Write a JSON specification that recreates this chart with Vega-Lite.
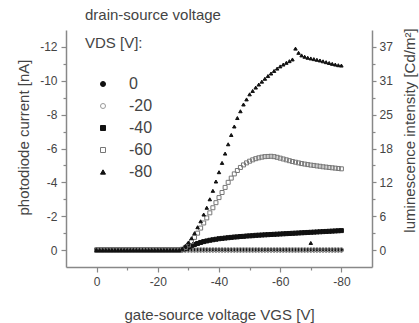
{
"$schema": "https://vega.github.io/schema/vega-lite/v6.json",
"width": 306, "height": 237,
"autosize": {"type": "none"},
"padding": {"left": 66, "top": 30, "right": 47, "bottom": 56},
"background": "white",
"config": {
  "view": {"stroke": null},
  "font": "Liberation Sans",
  "axis": {"grid": false, "domainColor": "#888", "tickColor": "#888", "labelColor": "#444", "titleColor": "#444", "labelFont": "Liberation Sans", "titleFont": "Liberation Sans", "labelFontSize": 12, "titleFontSize": 15, "titleFontWeight": "normal", "domainWidth": 1.5, "tickWidth": 1.2},
  "legend": {"titleFont": "Liberation Sans", "labelFont": "Liberation Sans"}
},
"data": {"values": [
{"s":"0","v":0,"c":0},{"s":"0","v":-1,"c":0},{"s":"0","v":-2,"c":0},{"s":"0","v":-3,"c":0},{"s":"0","v":-4,"c":0},{"s":"0","v":-5,"c":0},{"s":"0","v":-6,"c":0},{"s":"0","v":-7,"c":0},{"s":"0","v":-8,"c":0},{"s":"0","v":-9,"c":0},{"s":"0","v":-10,"c":0},{"s":"0","v":-11,"c":0},{"s":"0","v":-12,"c":0},{"s":"0","v":-13,"c":0},{"s":"0","v":-14,"c":0},{"s":"0","v":-15,"c":0},{"s":"0","v":-16,"c":0},{"s":"0","v":-17,"c":0},{"s":"0","v":-18,"c":0},{"s":"0","v":-19,"c":0},{"s":"0","v":-20,"c":0},{"s":"0","v":-21,"c":0},{"s":"0","v":-22,"c":0},{"s":"0","v":-23,"c":0},{"s":"0","v":-24,"c":0},{"s":"0","v":-25,"c":0},{"s":"0","v":-26,"c":0},{"s":"0","v":-27,"c":0},{"s":"0","v":-28,"c":0},{"s":"0","v":-29,"c":0},{"s":"0","v":-30,"c":0},{"s":"0","v":-31,"c":0},{"s":"0","v":-32,"c":0},{"s":"0","v":-33,"c":0},{"s":"0","v":-34,"c":0},{"s":"0","v":-35,"c":0},{"s":"0","v":-36,"c":0},{"s":"0","v":-37,"c":0},{"s":"0","v":-38,"c":0},{"s":"0","v":-39,"c":0},{"s":"0","v":-40,"c":0},{"s":"0","v":-41,"c":0},{"s":"0","v":-42,"c":0},{"s":"0","v":-43,"c":0},{"s":"0","v":-44,"c":0},{"s":"0","v":-45,"c":0},{"s":"0","v":-46,"c":0},{"s":"0","v":-47,"c":0},{"s":"0","v":-48,"c":0},{"s":"0","v":-49,"c":0},{"s":"0","v":-50,"c":0},{"s":"0","v":-51,"c":0},{"s":"0","v":-52,"c":0},{"s":"0","v":-53,"c":0},{"s":"0","v":-54,"c":0},{"s":"0","v":-55,"c":0},{"s":"0","v":-56,"c":0},{"s":"0","v":-57,"c":0},{"s":"0","v":-58,"c":0},{"s":"0","v":-59,"c":0},{"s":"0","v":-60,"c":0},{"s":"0","v":-61,"c":0},{"s":"0","v":-62,"c":0},{"s":"0","v":-63,"c":0},{"s":"0","v":-64,"c":0},{"s":"0","v":-65,"c":0},{"s":"0","v":-66,"c":0},{"s":"0","v":-67,"c":0},{"s":"0","v":-68,"c":0},{"s":"0","v":-69,"c":0},{"s":"0","v":-70,"c":0},{"s":"0","v":-71,"c":0},{"s":"0","v":-72,"c":0},{"s":"0","v":-73,"c":0},{"s":"0","v":-74,"c":0},{"s":"0","v":-75,"c":0},{"s":"0","v":-76,"c":0},{"s":"0","v":-77,"c":0},{"s":"0","v":-78,"c":0},{"s":"0","v":-79,"c":0},{"s":"0","v":-80,"c":0},
{"s":"-20","v":0,"c":0},{"s":"-20","v":-1,"c":0},{"s":"-20","v":-2,"c":0},{"s":"-20","v":-3,"c":0},{"s":"-20","v":-4,"c":0},{"s":"-20","v":-5,"c":0},{"s":"-20","v":-6,"c":0},{"s":"-20","v":-7,"c":0},{"s":"-20","v":-8,"c":0},{"s":"-20","v":-9,"c":0},{"s":"-20","v":-10,"c":0},{"s":"-20","v":-11,"c":0},{"s":"-20","v":-12,"c":0},{"s":"-20","v":-13,"c":0},{"s":"-20","v":-14,"c":0},{"s":"-20","v":-15,"c":0},{"s":"-20","v":-16,"c":0},{"s":"-20","v":-17,"c":0},{"s":"-20","v":-18,"c":0},{"s":"-20","v":-19,"c":0},{"s":"-20","v":-20,"c":0},{"s":"-20","v":-21,"c":0},{"s":"-20","v":-22,"c":0},{"s":"-20","v":-23,"c":0},{"s":"-20","v":-24,"c":0},{"s":"-20","v":-25,"c":0},{"s":"-20","v":-26,"c":0},{"s":"-20","v":-27,"c":0},{"s":"-20","v":-28,"c":0},{"s":"-20","v":-29,"c":-0.01},{"s":"-20","v":-30,"c":-0.01},{"s":"-20","v":-31,"c":-0.02},{"s":"-20","v":-32,"c":-0.02},{"s":"-20","v":-33,"c":-0.02},{"s":"-20","v":-34,"c":-0.02},{"s":"-20","v":-35,"c":-0.02},{"s":"-20","v":-36,"c":-0.02},{"s":"-20","v":-37,"c":-0.02},{"s":"-20","v":-38,"c":-0.02},{"s":"-20","v":-39,"c":-0.02},{"s":"-20","v":-40,"c":-0.02},{"s":"-20","v":-41,"c":-0.02},{"s":"-20","v":-42,"c":-0.02},{"s":"-20","v":-43,"c":-0.02},{"s":"-20","v":-44,"c":-0.02},{"s":"-20","v":-45,"c":-0.02},{"s":"-20","v":-46,"c":-0.02},{"s":"-20","v":-47,"c":-0.02},{"s":"-20","v":-48,"c":-0.02},{"s":"-20","v":-49,"c":-0.02},{"s":"-20","v":-50,"c":-0.02},{"s":"-20","v":-51,"c":-0.02},{"s":"-20","v":-52,"c":-0.02},{"s":"-20","v":-53,"c":-0.02},{"s":"-20","v":-54,"c":-0.02},{"s":"-20","v":-55,"c":-0.02},{"s":"-20","v":-56,"c":-0.02},{"s":"-20","v":-57,"c":-0.02},{"s":"-20","v":-58,"c":-0.02},{"s":"-20","v":-59,"c":-0.02},{"s":"-20","v":-60,"c":-0.02},{"s":"-20","v":-61,"c":-0.02},{"s":"-20","v":-62,"c":-0.02},{"s":"-20","v":-63,"c":-0.02},{"s":"-20","v":-64,"c":-0.02},{"s":"-20","v":-65,"c":-0.02},{"s":"-20","v":-66,"c":-0.02},{"s":"-20","v":-67,"c":-0.02},{"s":"-20","v":-68,"c":-0.02},{"s":"-20","v":-69,"c":-0.02},{"s":"-20","v":-70,"c":-0.02},{"s":"-20","v":-71,"c":-0.02},{"s":"-20","v":-72,"c":-0.02},{"s":"-20","v":-73,"c":-0.02},{"s":"-20","v":-74,"c":-0.02},{"s":"-20","v":-75,"c":-0.02},{"s":"-20","v":-76,"c":-0.02},{"s":"-20","v":-77,"c":-0.02},{"s":"-20","v":-78,"c":-0.02},{"s":"-20","v":-79,"c":-0.02},{"s":"-20","v":-80,"c":-0.02},
{"s":"-40","v":0,"c":0},{"s":"-40","v":-1,"c":0},{"s":"-40","v":-2,"c":0},{"s":"-40","v":-3,"c":0},{"s":"-40","v":-4,"c":0},{"s":"-40","v":-5,"c":0},{"s":"-40","v":-6,"c":0},{"s":"-40","v":-7,"c":0},{"s":"-40","v":-8,"c":0},{"s":"-40","v":-9,"c":0},{"s":"-40","v":-10,"c":0},{"s":"-40","v":-11,"c":0},{"s":"-40","v":-12,"c":0},{"s":"-40","v":-13,"c":0},{"s":"-40","v":-14,"c":0},{"s":"-40","v":-15,"c":0},{"s":"-40","v":-16,"c":0},{"s":"-40","v":-17,"c":0},{"s":"-40","v":-18,"c":0},{"s":"-40","v":-19,"c":0},{"s":"-40","v":-20,"c":0},{"s":"-40","v":-21,"c":0},{"s":"-40","v":-22,"c":0},{"s":"-40","v":-23,"c":0},{"s":"-40","v":-24,"c":0},{"s":"-40","v":-25,"c":0},{"s":"-40","v":-26,"c":0},{"s":"-40","v":-27,"c":0},{"s":"-40","v":-28,"c":-0.03},{"s":"-40","v":-29,"c":-0.1},{"s":"-40","v":-30,"c":-0.18},{"s":"-40","v":-31,"c":-0.26},{"s":"-40","v":-32,"c":-0.33},{"s":"-40","v":-33,"c":-0.39},{"s":"-40","v":-34,"c":-0.45},{"s":"-40","v":-35,"c":-0.5},{"s":"-40","v":-36,"c":-0.54},{"s":"-40","v":-37,"c":-0.58},{"s":"-40","v":-38,"c":-0.61},{"s":"-40","v":-39,"c":-0.64},{"s":"-40","v":-40,"c":-0.67},{"s":"-40","v":-41,"c":-0.69},{"s":"-40","v":-42,"c":-0.71},{"s":"-40","v":-43,"c":-0.73},{"s":"-40","v":-44,"c":-0.75},{"s":"-40","v":-45,"c":-0.77},{"s":"-40","v":-46,"c":-0.78},{"s":"-40","v":-47,"c":-0.8},{"s":"-40","v":-48,"c":-0.81},{"s":"-40","v":-49,"c":-0.83},{"s":"-40","v":-50,"c":-0.84},{"s":"-40","v":-51,"c":-0.85},{"s":"-40","v":-52,"c":-0.87},{"s":"-40","v":-53,"c":-0.88},{"s":"-40","v":-54,"c":-0.89},{"s":"-40","v":-55,"c":-0.9},{"s":"-40","v":-56,"c":-0.91},{"s":"-40","v":-57,"c":-0.92},{"s":"-40","v":-58,"c":-0.93},{"s":"-40","v":-59,"c":-0.94},{"s":"-40","v":-60,"c":-0.95},{"s":"-40","v":-61,"c":-0.96},{"s":"-40","v":-62,"c":-0.97},{"s":"-40","v":-63,"c":-0.98},{"s":"-40","v":-64,"c":-0.99},{"s":"-40","v":-65,"c":-1.0},{"s":"-40","v":-66,"c":-1.01},{"s":"-40","v":-67,"c":-1.02},{"s":"-40","v":-68,"c":-1.03},{"s":"-40","v":-69,"c":-1.04},{"s":"-40","v":-70,"c":-1.05},{"s":"-40","v":-71,"c":-1.06},{"s":"-40","v":-72,"c":-1.07},{"s":"-40","v":-73,"c":-1.08},{"s":"-40","v":-74,"c":-1.09},{"s":"-40","v":-75,"c":-1.1},{"s":"-40","v":-76,"c":-1.11},{"s":"-40","v":-77,"c":-1.12},{"s":"-40","v":-78,"c":-1.13},{"s":"-40","v":-79,"c":-1.14},{"s":"-40","v":-80,"c":-1.15},
{"s":"-60","v":0,"c":0},{"s":"-60","v":-1,"c":0},{"s":"-60","v":-2,"c":0},{"s":"-60","v":-3,"c":0},{"s":"-60","v":-4,"c":0},{"s":"-60","v":-5,"c":0},{"s":"-60","v":-6,"c":0},{"s":"-60","v":-7,"c":0},{"s":"-60","v":-8,"c":0},{"s":"-60","v":-9,"c":0},{"s":"-60","v":-10,"c":0},{"s":"-60","v":-11,"c":0},{"s":"-60","v":-12,"c":0},{"s":"-60","v":-13,"c":0},{"s":"-60","v":-14,"c":0},{"s":"-60","v":-15,"c":0},{"s":"-60","v":-16,"c":0},{"s":"-60","v":-17,"c":0},{"s":"-60","v":-18,"c":0},{"s":"-60","v":-19,"c":0},{"s":"-60","v":-20,"c":0},{"s":"-60","v":-21,"c":0},{"s":"-60","v":-22,"c":0},{"s":"-60","v":-23,"c":0},{"s":"-60","v":-24,"c":0},{"s":"-60","v":-25,"c":0},{"s":"-60","v":-26,"c":0},{"s":"-60","v":-27,"c":0},{"s":"-60","v":-28,"c":-0.05},{"s":"-60","v":-29,"c":-0.15},{"s":"-60","v":-30,"c":-0.3},{"s":"-60","v":-31,"c":-0.5},{"s":"-60","v":-32,"c":-0.75},{"s":"-60","v":-33,"c":-1.0},{"s":"-60","v":-34,"c":-1.3},{"s":"-60","v":-35,"c":-1.6},{"s":"-60","v":-36,"c":-1.9},{"s":"-60","v":-37,"c":-2.2},{"s":"-60","v":-38,"c":-2.5},{"s":"-60","v":-39,"c":-2.8},{"s":"-60","v":-40,"c":-3.1},{"s":"-60","v":-41,"c":-3.4},{"s":"-60","v":-42,"c":-3.7},{"s":"-60","v":-43,"c":-4.0},{"s":"-60","v":-44,"c":-4.25},{"s":"-60","v":-45,"c":-4.5},{"s":"-60","v":-46,"c":-4.7},{"s":"-60","v":-47,"c":-4.88},{"s":"-60","v":-48,"c":-5.03},{"s":"-60","v":-49,"c":-5.15},{"s":"-60","v":-50,"c":-5.25},{"s":"-60","v":-51,"c":-5.33},{"s":"-60","v":-52,"c":-5.4},{"s":"-60","v":-53,"c":-5.45},{"s":"-60","v":-54,"c":-5.49},{"s":"-60","v":-55,"c":-5.52},{"s":"-60","v":-56,"c":-5.53},{"s":"-60","v":-57,"c":-5.54},{"s":"-60","v":-58,"c":-5.52},{"s":"-60","v":-59,"c":-5.48},{"s":"-60","v":-60,"c":-5.43},{"s":"-60","v":-61,"c":-5.38},{"s":"-60","v":-62,"c":-5.33},{"s":"-60","v":-63,"c":-5.28},{"s":"-60","v":-64,"c":-5.23},{"s":"-60","v":-65,"c":-5.19},{"s":"-60","v":-66,"c":-5.15},{"s":"-60","v":-67,"c":-5.11},{"s":"-60","v":-68,"c":-5.08},{"s":"-60","v":-69,"c":-5.05},{"s":"-60","v":-70,"c":-5.02},{"s":"-60","v":-71,"c":-5.0},{"s":"-60","v":-72,"c":-4.97},{"s":"-60","v":-73,"c":-4.95},{"s":"-60","v":-74,"c":-4.92},{"s":"-60","v":-75,"c":-4.9},{"s":"-60","v":-76,"c":-4.88},{"s":"-60","v":-77,"c":-4.86},{"s":"-60","v":-78,"c":-4.84},{"s":"-60","v":-79,"c":-4.82},{"s":"-60","v":-80,"c":-4.8},
{"s":"-80","v":0,"c":0},{"s":"-80","v":-1,"c":0},{"s":"-80","v":-2,"c":0},{"s":"-80","v":-3,"c":0},{"s":"-80","v":-4,"c":0},{"s":"-80","v":-5,"c":0},{"s":"-80","v":-6,"c":0},{"s":"-80","v":-7,"c":0},{"s":"-80","v":-8,"c":0},{"s":"-80","v":-9,"c":0},{"s":"-80","v":-10,"c":0},{"s":"-80","v":-11,"c":0},{"s":"-80","v":-12,"c":0},{"s":"-80","v":-13,"c":0},{"s":"-80","v":-14,"c":0},{"s":"-80","v":-15,"c":0},{"s":"-80","v":-16,"c":0},{"s":"-80","v":-17,"c":0},{"s":"-80","v":-18,"c":0},{"s":"-80","v":-19,"c":0},{"s":"-80","v":-20,"c":0},{"s":"-80","v":-21,"c":0},{"s":"-80","v":-22,"c":0},{"s":"-80","v":-23,"c":0},{"s":"-80","v":-24,"c":0},{"s":"-80","v":-25,"c":0},{"s":"-80","v":-26,"c":0},{"s":"-80","v":-27,"c":0},{"s":"-80","v":-28,"c":-0.08},{"s":"-80","v":-29,"c":-0.25},{"s":"-80","v":-30,"c":-0.45},{"s":"-80","v":-31,"c":-0.7},{"s":"-80","v":-32,"c":-1.0},{"s":"-80","v":-33,"c":-1.35},{"s":"-80","v":-34,"c":-1.7},{"s":"-80","v":-35,"c":-2.1},{"s":"-80","v":-36,"c":-2.5},{"s":"-80","v":-37,"c":-3.0},{"s":"-80","v":-38,"c":-3.5},{"s":"-80","v":-39,"c":-4.05},{"s":"-80","v":-40,"c":-4.6},{"s":"-80","v":-41,"c":-5.15},{"s":"-80","v":-42,"c":-5.7},{"s":"-80","v":-43,"c":-6.25},{"s":"-80","v":-44,"c":-6.8},{"s":"-80","v":-45,"c":-7.3},{"s":"-80","v":-46,"c":-7.8},{"s":"-80","v":-47,"c":-8.2},{"s":"-80","v":-48,"c":-8.6},{"s":"-80","v":-49,"c":-8.9},{"s":"-80","v":-50,"c":-9.2},{"s":"-80","v":-51,"c":-9.4},{"s":"-80","v":-52,"c":-9.6},{"s":"-80","v":-53,"c":-9.78},{"s":"-80","v":-54,"c":-9.95},{"s":"-80","v":-55,"c":-10.12},{"s":"-80","v":-56,"c":-10.28},{"s":"-80","v":-57,"c":-10.43},{"s":"-80","v":-58,"c":-10.58},{"s":"-80","v":-59,"c":-10.72},{"s":"-80","v":-60,"c":-10.85},{"s":"-80","v":-61,"c":-10.96},{"s":"-80","v":-62,"c":-11.06},{"s":"-80","v":-63,"c":-11.16},{"s":"-80","v":-64,"c":-11.26},{"s":"-80","v":-65,"c":-11.9},{"s":"-80","v":-66,"c":-11.65},{"s":"-80","v":-67,"c":-11.5},{"s":"-80","v":-68,"c":-11.42},{"s":"-80","v":-69,"c":-11.36},{"s":"-80","v":-70,"c":-11.32},{"s":"-80","v":-71,"c":-11.28},{"s":"-80","v":-72,"c":-11.24},{"s":"-80","v":-73,"c":-11.2},{"s":"-80","v":-74,"c":-11.15},{"s":"-80","v":-75,"c":-11.1},{"s":"-80","v":-76,"c":-11.05},{"s":"-80","v":-77,"c":-11.0},{"s":"-80","v":-78,"c":-10.96},{"s":"-80","v":-79,"c":-10.92},{"s":"-80","v":-80,"c":-10.9},
{"s":"-80","v":-70,"c":-0.42}
]},
"layer": [
{
 "transform": [{"filter": "datum.s == '0'"}],
 "mark": {"type": "point", "size": 16, "strokeWidth": 1, "opacity": 1},
 "encoding": {
  "x": {"field": "v", "type": "quantitative", "scale": {"domain": [10, -90]}, "axis": {"orient": "bottom", "values": [0, -20, -40, -60, -80], "labelExpr": "'' + datum.value", "tickSize": 5, "labelPadding": 4, "title": "gate-source voltage VGS [V]", "titlePadding": 20}},
  "y": {"field": "c", "type": "quantitative", "scale": {"domain": [1, -13]}, "axis": {"orient": "left", "values": [0, -2, -4, -6, -8, -10, -12], "labelExpr": "'' + datum.value", "tickSize": 5, "labelPadding": 4, "title": "photodiode current [nA]", "titlePadding": 8, "titleY": 107}},
  "shape": {"field": "s", "type": "nominal", "scale": {"domain": ["0", "-20", "-40", "-60", "-80"], "range": ["circle", "circle", "square", "square", "triangle-up"]}, "legend": {"orient": "none", "legendX": 19, "legendY": -22, "title": ["drain-source voltage", "VDS [V]:"], "titleFontSize": 15, "titleFontWeight": "normal", "titleLineHeight": 28, "titlePadding": 25, "titleColor": "#444", "labelFontSize": 16, "labelColor": "#444", "symbolSize": 25, "symbolOffset": 10, "labelOffset": 18, "rowPadding": 6, "symbolStrokeWidth": 1}},
  "fill": {"field": "s", "type": "nominal", "scale": {"domain": ["0", "-20", "-40", "-60", "-80"], "range": ["#111", "transparent", "#111", "transparent", "#111"]}, "legend": {"orient": "none", "legendX": 19, "legendY": -22, "title": ["drain-source voltage", "VDS [V]:"]}},
  "stroke": {"field": "s", "type": "nominal", "scale": {"domain": ["0", "-20", "-40", "-60", "-80"], "range": ["#111", "#999", "#111", "#777", "#111"]}, "legend": {"orient": "none", "legendX": 19, "legendY": -22, "title": ["drain-source voltage", "VDS [V]:"]}}
 }
},
{
 "transform": [{"filter": "datum.s == '-20'"}],
 "mark": {"type": "point", "size": 16, "strokeWidth": 1, "opacity": 1},
 "encoding": {
  "x": {"field": "v", "type": "quantitative", "axis": null},
  "y": {"field": "c", "type": "quantitative", "axis": {"orient": "right", "values": [0, -2, -4, -6, -8, -10, -12], "labelExpr": "format(abs(datum.value) * 3.08, '.0f')", "tickSize": 4, "labelPadding": 3, "title": "luminescence intensity [Cd/m²]", "titleAngle": 270, "titleBaseline": "top", "titlePadding": 10, "titleY": 100}},
  "shape": {"field": "s", "type": "nominal"},
  "fill": {"field": "s", "type": "nominal"},
  "stroke": {"field": "s", "type": "nominal"}
 }
},
{
 "transform": [{"filter": "datum.s == '-40'"}],
 "mark": {"type": "point", "size": 16, "strokeWidth": 1, "opacity": 1},
 "encoding": {
  "x": {"field": "v", "type": "quantitative", "axis": {"orient": "bottom", "values": [-10, -30, -50, -70], "labels": false, "domain": false, "tickSize": 3, "title": null}},
  "y": {"field": "c", "type": "quantitative", "axis": {"orient": "left", "values": [-1, -3, -5, -7, -9, -11], "labels": false, "domain": false, "tickSize": 3, "title": null}},
  "shape": {"field": "s", "type": "nominal"},
  "fill": {"field": "s", "type": "nominal"},
  "stroke": {"field": "s", "type": "nominal"}
 }
},
{
 "transform": [{"filter": "datum.s == '-60'"}],
 "mark": {"type": "point", "size": 16, "strokeWidth": 1, "opacity": 1},
 "encoding": {
  "x": {"field": "v", "type": "quantitative", "axis": null},
  "y": {"field": "c", "type": "quantitative", "axis": {"orient": "right", "values": [-1, -3, -5, -7, -9, -11], "labels": false, "domain": false, "tickSize": 3, "title": null}},
  "shape": {"field": "s", "type": "nominal"},
  "fill": {"field": "s", "type": "nominal"},
  "stroke": {"field": "s", "type": "nominal"}
 }
},
{
 "transform": [{"filter": "datum.s == '-80'"}],
 "mark": {"type": "point", "size": 12, "strokeWidth": 1, "opacity": 1},
 "encoding": {
  "x": {"field": "v", "type": "quantitative", "axis": null},
  "y": {"field": "c", "type": "quantitative", "axis": null},
  "shape": {"field": "s", "type": "nominal"},
  "fill": {"field": "s", "type": "nominal"},
  "stroke": {"field": "s", "type": "nominal"}
 }
}
],
"resolve": {"axis": {"x": "independent", "y": "independent"}}
}
